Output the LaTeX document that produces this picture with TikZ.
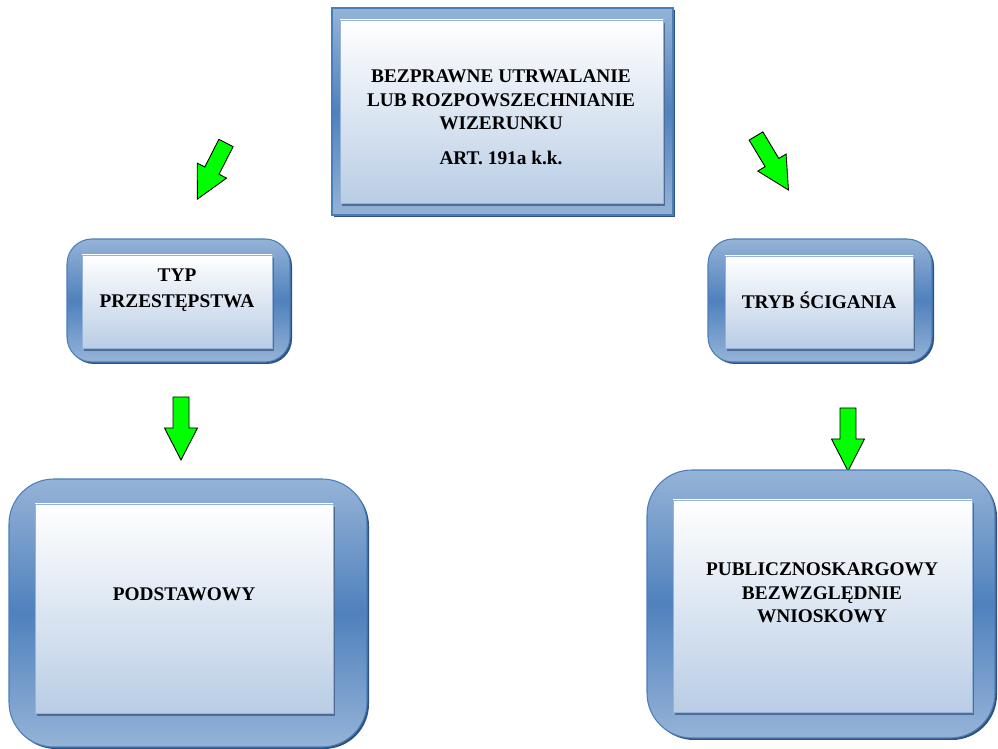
\documentclass[tikz,border=0pt]{standalone}
\usepackage{fontspec}
\setmainfont{Liberation Serif}
\usepackage{tikz}
\usepackage[rgb]{xcolor}

\definecolor{framelight}{HTML}{95B3D7}
\definecolor{framedark}{HTML}{4F81BD}
\definecolor{frameline}{HTML}{4A7EBB}
\definecolor{frameshade}{HTML}{30527D}
\definecolor{innerlow}{HTML}{B9CDE5}
\definecolor{innershade}{HTML}{4E6C94}
\definecolor{arrowgreen}{HTML}{00FF00}

\tikzset{
  frame/.style={draw=frameline, line width=0.6pt, top color=framelight, bottom color=framelight, middle color=framedark},
  frameshadow/.style={fill=frameshade},
  inner/.style={draw=framelight, line width=0.4pt, top color=white, bottom color=innerlow},
  innershadow/.style={fill=innershade},
  lbl/.style={align=center, font=\bfseries\fontsize{11}{13.5}\selectfont},
  arrowfill/.style={fill=arrowgreen, draw=black, line width=0.5pt, line join=miter},
  greenarrow/.pic={
    \draw[arrowfill] (0,-8) -- (31,-8) -- (31,-16.5) -- (63,0) -- (31,16.5) -- (31,8) -- (0,8) -- cycle;
  }
}

\begin{document}
\begin{tikzpicture}[x=0.02cm,y=-0.02cm]
\useasboundingbox (0,0) rectangle (998,749);

% top box
\path[frameshadow] (334,10) rectangle (675,217);
\path[frame] (332,8) rectangle (673,215);
\path[innershadow] (342,23) rectangle (665,206);
\path[inner] (340,20) rectangle (663,203);
\node[lbl] (head) at (501,117) {BEZPRAWNE UTRWALANIE\\LUB ROZPOWSZECHNIANIE\\WIZERUNKU\\[6pt]ART. 191a k.k.};

% arrows from top
\pic[rotate=243] at (226,143) {greenarrow};
\pic[rotate=-59] at (756,136) {greenarrow};

% level 1 left
\path[frameshadow, rounded corners=0.5cm] (69,241) rectangle (292,364);
\path[frame, rounded corners=0.5cm] (67,239) rectangle (290,362);
\path[innershadow] (84,258) rectangle (274,351);
\path[inner] (82,255) rectangle (272,348);
\node[lbl, font=\bfseries\fontsize{11}{15}\selectfont] (typ) at (177,290) {TYP\\PRZESTĘPSTWA};

% level 1 right
\path[frameshadow, rounded corners=0.5cm] (710,241) rectangle (934,364);
\path[frame, rounded corners=0.5cm] (708,239) rectangle (932,362);
\path[innershadow] (727,259) rectangle (915,351);
\path[inner] (725,256) rectangle (913,348);
\node[lbl] (tryb) at (819,300) {TRYB ŚCIGANIA};

% arrows down
\pic[rotate=-90] at (181,397) {greenarrow};
\pic[rotate=-90] at (848,408) {greenarrow};

% level 2 left
\path[frameshadow, rounded corners=0.9cm] (11,481) rectangle (369,749);
\path[frame, rounded corners=0.9cm] (9,479) rectangle (367,747);
\path[innershadow] (37,507) rectangle (335,716);
\path[inner] (35,504) rectangle (333,713);
\node[lbl] (podst) at (184,594) {PODSTAWOWY};

% level 2 right
\path[frameshadow, rounded corners=0.9cm] (649,472) rectangle (997,740);
\path[frame, rounded corners=0.9cm] (647,470) rectangle (995,738);
\path[innershadow] (675,503) rectangle (974,715);
\path[inner] (673,500) rectangle (972,712);
\node[lbl] (publ) at (822,593) {PUBLICZNOSKARGOWY\\BEZWZGLĘDNIE\\WNIOSKOWY};
\end{tikzpicture}
\end{document}
